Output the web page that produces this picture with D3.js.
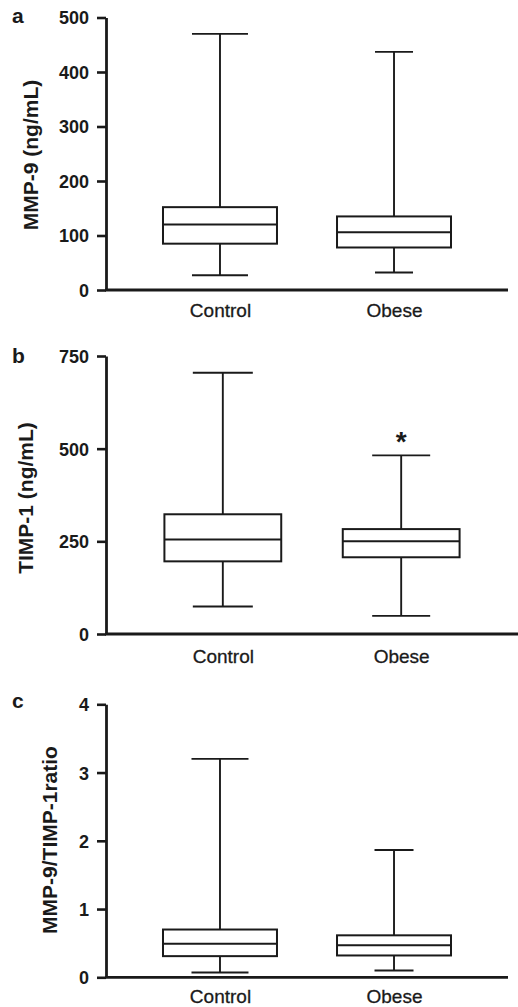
<!DOCTYPE html>
<html>
<head>
<meta charset="utf-8">
<script src="https://cdn.jsdelivr.net/npm/d3@7"></script>
<style>
  body { margin: 0; background: #fff; }
  svg { display: block; }
</style>
</head>
<body>
<script>
// data: [min, q1, median, q3, max] per group
const groups = ["Control", "Obese"];
const mmp9 = [[27, 85, 120, 152, 470], [32, 78, 106, 135, 437]];
const timp1 = [[74, 196, 255, 323, 705], [49, 207, 250, 283, 482]];
const ratio = [[0.07, 0.31, 0.49, 0.70, 3.2], [0.10, 0.32, 0.47, 0.615, 1.865]];
const mmp9Ticks = [0, 100, 200, 300, 400, 500];
const timp1Ticks = [0, 250, 500, 750];
const ratioTicks = [0, 1, 2, 3, 4];

const canvWidth = 518, canvHeight = 1007;
const svg = d3.select("body").append("svg")
    .attr("width", canvWidth)
    .attr("height", canvHeight)
    .style("background", "#fff");

const font = "'Liberation Sans', Arial, sans-serif";
const ink = "#1a1a1a";

// layout per panel
const panels = [
    {letter: "a", title: "MMP-9 (ng/mL)", data: mmp9, ticks: mmp9Ticks,
     y0: 290, y1: 17.5, xEnd: 508, letterY: 23, titleX: 30, titleY: 155, labelY: 317, caps: [56, 38], star: false},
    {letter: "b", title: "TIMP-1 (ng/mL)", data: timp1, ticks: timp1Ticks,
     y0: 634, y1: 356, xEnd: 518, letterY: 363, titleX: 25, titleY: 498, labelY: 663, caps: [60, 58], star: true},
    {letter: "c", title: "MMP-9/TIMP-1ratio", data: ratio, ticks: ratioTicks,
     y0: 977.3, y1: 704.3, xEnd: 508, letterY: 708, titleX: 49, titleY: 840, labelY: 1003, caps: [57, 39], star: false}
];

const axisX = 106;

panels.forEach(function (p) {
    const g = svg.append("g");

    const yScale = d3.scaleLinear()
        .domain([0, d3.max(p.ticks)])
        .range([p.y0, p.y1]);

    const xScale = d3.scalePoint()
        .domain(groups)
        .range([axisX, p.xEnd])
        .padding(0.655);

    const step = xScale.step();
    const boxW = step * 0.655;

    // y axis
    const yAxis = d3.axisLeft(yScale)
        .tickValues(p.ticks)
        .tickFormat(d3.format("d"))
        .tickSize(9)
        .tickSizeOuter(0)
        .tickPadding(8);

    const ya = g.append("g")
        .attr("transform", "translate(" + axisX + ",0)")
        .call(yAxis);
    ya.select(".domain").attr("stroke", ink).attr("stroke-width", 2.8);
    ya.selectAll(".tick line").attr("stroke", ink).attr("stroke-width", 2.6);
    ya.selectAll(".tick text")
        .attr("font-family", font)
        .attr("font-size", "18px")
        .attr("font-weight", "bold")
        .attr("fill", ink)
        .attr("dy", "0.36em");

    // x axis
    const xAxis = d3.axisBottom(xScale).tickSize(0).tickSizeOuter(0);
    const xa = g.append("g")
        .attr("transform", "translate(0," + p.y0 + ")")
        .call(xAxis);
    xa.select(".domain").attr("stroke", ink).attr("stroke-width", 2.8)
        .attr("d", "M" + (axisX - 1) + ",0H" + p.xEnd);
    xa.selectAll(".tick text")
        .attr("font-family", font)
        .attr("font-size", "19px")
        .attr("fill", ink)
        .attr("stroke", ink)
        .attr("stroke-width", 0.3)
        .attr("y", p.labelY - p.y0)
        .attr("dy", 0);

    // boxes
    const box = g.selectAll(".box")
        .data(p.data)
        .join("g")
        .attr("class", "box");

    box.append("line")
        .attr("x1", (d, i) => xScale(groups[i]))
        .attr("x2", (d, i) => xScale(groups[i]))
        .attr("y1", d => yScale(d[0]))
        .attr("y2", d => yScale(d[1]))
        .attr("stroke", ink).attr("stroke-width", 1.9);
    box.append("line")
        .attr("x1", (d, i) => xScale(groups[i]))
        .attr("x2", (d, i) => xScale(groups[i]))
        .attr("y1", d => yScale(d[3]))
        .attr("y2", d => yScale(d[4]))
        .attr("stroke", ink).attr("stroke-width", 1.9);

    // caps
    [0, 4].forEach(function (k) {
        box.append("line")
            .attr("x1", (d, i) => xScale(groups[i]) - p.caps[i] / 2)
            .attr("x2", (d, i) => xScale(groups[i]) + p.caps[i] / 2)
            .attr("y1", d => yScale(d[k]))
            .attr("y2", d => yScale(d[k]))
            .attr("stroke", ink).attr("stroke-width", 1.9);
    });

    box.append("rect")
        .attr("x", (d, i) => xScale(groups[i]) - boxW / 2)
        .attr("width", boxW)
        .attr("y", d => yScale(d[3]))
        .attr("height", d => yScale(d[1]) - yScale(d[3]))
        .attr("fill", "#fff")
        .attr("stroke", ink).attr("stroke-width", 2);

    box.append("line")
        .attr("x1", (d, i) => xScale(groups[i]) - boxW / 2)
        .attr("x2", (d, i) => xScale(groups[i]) + boxW / 2)
        .attr("y1", d => yScale(d[2]))
        .attr("y2", d => yScale(d[2]))
        .attr("stroke", ink).attr("stroke-width", 2);

    // significance marker
    if (p.star) {
        g.append("text")
            .attr("x", xScale(groups[1]))
            .attr("y", yScale(p.data[1][4]) - 4)
            .attr("font-family", font)
            .attr("font-size", "28px")
            .attr("font-weight", "bold")
            .attr("text-anchor", "middle")
            .attr("fill", ink)
            .text("*");
    }

    // panel letter
    g.append("text")
        .attr("x", 12)
        .attr("y", p.letterY)
        .attr("font-family", font)
        .attr("font-size", "21px")
        .attr("font-weight", "bold")
        .attr("fill", ink)
        .text(p.letter);

    // y title
    g.append("text")
        .attr("transform", "translate(" + p.titleX + "," + p.titleY + ") rotate(-90)")
        .attr("dy", "0.36em")
        .attr("font-family", font)
        .attr("font-size", "21px")
        .attr("font-weight", "bold")
        .attr("text-anchor", "middle")
        .attr("fill", ink)
        .text(p.title);
});
</script>
</body>
</html>
